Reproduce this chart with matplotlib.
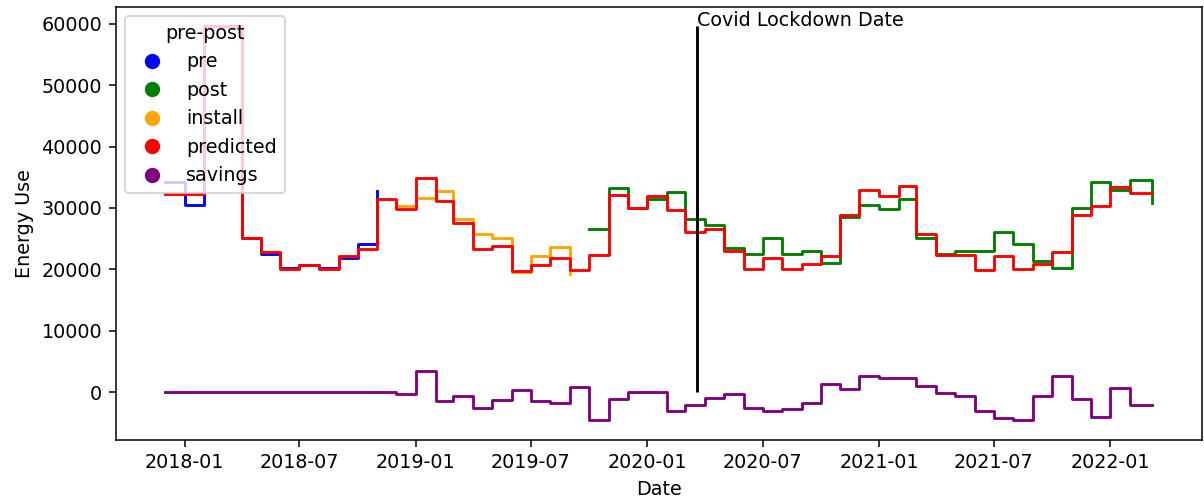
import pandas as pd
import matplotlib.pyplot as plt
from matplotlib.lines import Line2D

# monthly bill dates (last bill closes a week into March)
dates = list(pd.date_range('2017-12-01', '2022-02-01', freq='MS')) + [pd.Timestamp('2022-03-08')]

pre = [34150, 30530, 59600, 59600, 25130, 22540, 20270, 20640, 20270, 21890, 24050, 32690]
install = [30250, 31620, 32690, 28220, 25670, 25130, 19560, 22150, 23680, 19180]
post = [26590, 33240, 30000, 31460, 32590, 28220, 27290, 23510, 22540, 25130,
        22540, 22960, 20970, 28480, 30530, 29840, 31460, 25130, 22540, 22960,
        22960, 26110, 24050, 21340, 20160, 30000, 34220, 32970, 34590, 30810]
predicted = [32270, 32270, 59600, 59600, 25130, 22860, 20100, 20640, 20100, 22150,
             23240, 31460, 29850, 34860, 31070, 27570, 23240, 23770, 19720, 20690,
             21890, 19880, 22260, 32160, 30000, 31880, 29610, 26040, 26480, 22960,
             19990, 21780, 19990, 20920, 22150, 28800, 32970, 31880, 33620, 25670,
             22260, 22260, 19880, 22150, 19990, 20800, 22800, 28910, 30260, 33400,
             32430, 32430]
savings = [0] * 12 + [-400, 3410, -1540, -680, -2670, -1370, 280, -1540, -1820, 740,
                      -4550, -1140, 0, 0, -3080, -2180, -950, -390, -2630, -3080,
                      -2800, -1790, 1290, 450, 2580, 2300, 2300, 1010, -220, -670,
                      -3080, -4310, -4590, -670, 2580, -1120, -4140, 730, -2180, -2180]

covid = pd.Timestamp('2020-03-19')

groups = ['pre', 'post', 'install', 'predicted', 'savings']
colors = ['blue', 'green', 'orange', 'red', 'purple']

n_pre = len(pre)
n_inst = len(install)

dpi = 137.5
fig, ax = plt.subplots(figsize=(1204 / dpi, 501 / dpi), dpi=dpi)
fig.subplots_adjust(left=0.096, right=0.998, top=0.987, bottom=0.122)

ax.step(dates[:n_pre], pre, where='post', color='blue')
ax.step(dates[n_pre + n_inst:], post, where='post', color='green')
ax.step(dates[n_pre:n_pre + n_inst], install, where='post', color='orange')
ax.step(dates, predicted, where='post', color='red')
ax.step(dates, savings, where='post', color='purple')

top = max(predicted)
ax.vlines(covid, 0, top, color='black')
ax.text(covid, top, 'Covid Lockdown Date')

handles = [Line2D([], [], marker='o', linestyle='', color=c, markersize=7) for c in colors]
ax.legend(handles, groups, title='pre-post', loc='upper left')

ax.set_xlabel('Date')
ax.set_ylabel('Energy Use')

fig.savefig('out.png', dpi=dpi)
